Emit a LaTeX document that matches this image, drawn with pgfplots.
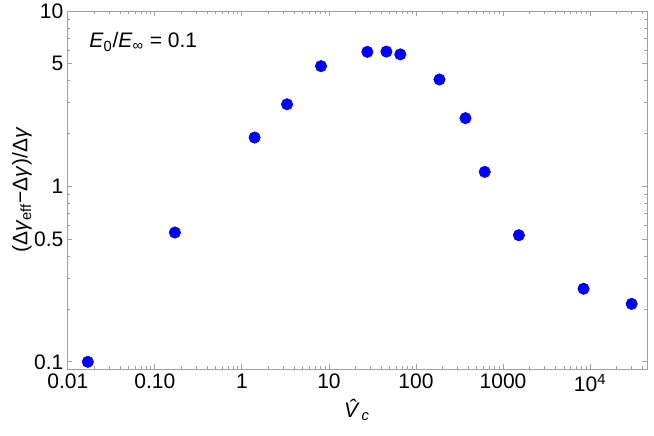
\documentclass[border=0pt]{standalone}
\usepackage{fontspec}
\setmainfont{Liberation Sans}
\usepackage{pgfplots}
\pgfplotsset{compat=1.18}
\usepackage{pgfplotstable}

\definecolor{framegray}{RGB}{160,160,160}
\definecolor{ptblue}{RGB}{0,0,255}

\pgfplotstableread{
x      y
0.0170 0.100
0.170  0.546
1.40   1.90
3.30   2.94
8.10   4.85
27.6   5.85
45.7   5.87
66.0   5.66
186    4.07
370    2.45
616    1.21
1520   0.527
8400   0.261
30000  0.214
}\ratiodata

\begin{document}
\fontsize{12.6}{14.5}\selectfont
\begin{tikzpicture}
\begin{loglogaxis}[
  scale only axis,
  width=348pt, height=214.8pt,
  xmin=0.0098, xmax=45000,
  ymin=0.091, ymax=10,
  axis line style={framegray},
  tick style={framegray, line width=0.5pt},
  major tick length=3.2pt,
  minor tick length=1.8pt,
  xtick={0.01,0.1,1,10,100,1000,10000},
  xticklabels={0.01,0.10,1,10,100,1000,10\textsuperscript{4}},
  minor xtick={0.02,0.03,0.04,0.05,0.06,0.07,0.08,0.09,
               0.2,0.3,0.4,0.5,0.6,0.7,0.8,0.9,
               2,3,4,5,6,7,8,9,
               20,30,40,50,60,70,80,90,
               200,300,400,500,600,700,800,900,
               2000,3000,4000,5000,6000,7000,8000,9000,
               20000,30000,40000},
  ytick={0.1,0.5,1,5,10},
  yticklabels={0.1,0.5,1,5,10},
  minor ytick={0.2,0.3,0.4,0.6,0.7,0.8,0.9,2,3,4,6,7,8,9},
  xticklabel style={font=\fontsize{12.6}{14.5}\selectfont, inner sep=1pt, yshift=-2pt},
  yticklabel style={font=\fontsize{12.6}{14.5}\selectfont, inner sep=1pt, xshift=-1pt},
  every axis x label/.style={at={(axis description cs:0.5,-0.1145)}, anchor=center},
  every axis y label/.style={at={(axis description cs:-0.0776,0.5)}, rotate=90, anchor=center},
  xlabel={\fontsize{12.6}{14.5}\selectfont\textit{\^{V}}\textsubscript{\textit{c}}},
  ylabel={\fontsize{12.6}{14.5}\selectfont(Δ\textit{γ}\textsubscript{eff}−Δ\textit{γ})/Δ\textit{γ}},
  clip=false,
]
\addplot[only marks, mark=*, mark size=3.4pt, ptblue, mark options={draw=ptblue, fill=ptblue}]
  table[x=x, y=y] {\ratiodata};
\node[anchor=west, inner sep=0pt] at (rel axis cs:0.038,0.913)
  {\textit{E}\textsubscript{0}/\textit{E}\textsubscript{∞} = 0.1};
\end{loglogaxis}
\pgfresetboundingbox
\path ([shift={(-40.2pt,-40.2pt)}]current axis.south west)
  rectangle ([shift={(4.2pt,6.6pt)}]current axis.north east);
\end{tikzpicture}
\end{document}
